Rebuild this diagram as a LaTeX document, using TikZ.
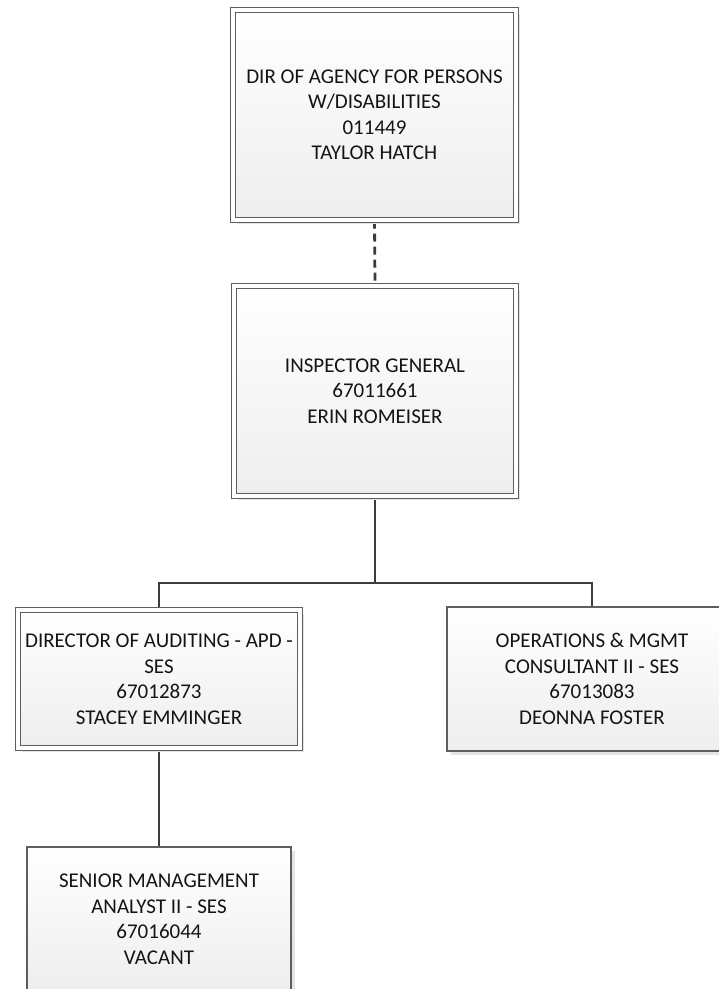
\documentclass[tikz,border=0pt]{standalone}
\usepackage{fontspec}
\setmainfont{Carlito}
\usetikzlibrary{shadows,backgrounds}
\definecolor{boxline}{HTML}{5E5E5E}
\definecolor{conline}{HTML}{3C3C3C}
\definecolor{boxbottom}{HTML}{EEEEEE}
\definecolor{shadowc}{HTML}{E4E4E4}
\definecolor{txt}{HTML}{141414}
\tikzset{
  orgbase/.style={rectangle, align=center, inner sep=0pt,
    top color=white, bottom color=boxbottom,
    text=txt, font=\fontsize{21}{25.5}\selectfont,
    drop shadow={shadow xshift=4pt, shadow yshift=-4pt, fill=shadowc, opacity=1}},
  dblbox/.style={orgbase, draw=boxline, line width=1.2pt, double=white, double distance=3.6pt},
  sglbox/.style={orgbase, draw=boxline, line width=1.4pt},
  conn/.style={draw=conline, line width=2.8pt},
  dconn/.style={conn, dash pattern=on 8pt off 5pt}
}
\begin{document}
\begin{tikzpicture}[x=1pt, y=-1pt]
\useasboundingbox (0,0) rectangle (719,989);
\node[dblbox, minimum width=283pt, minimum height=210pt] (dir) at (374.5,115)
  {DIR OF AGENCY FOR PERSONS\\W/DISABILITIES\\011449\\TAYLOR HATCH};
\node[dblbox, minimum width=282pt, minimum height=210pt] (ig) at (375,391)
  {INSPECTOR GENERAL\\67011661\\ERIN ROMEISER};
\node[dblbox, minimum width=282pt, minimum height=138pt] (aud) at (159,679)
  {DIRECTOR OF AUDITING - APD -\\SES\\67012873\\STACEY EMMINGER};
\node[sglbox, minimum width=290pt, minimum height=144pt] (ops) at (592,679)
  {OPERATIONS \& MGMT\\CONSULTANT II - SES\\67013083\\DEONNA FOSTER};
\node[sglbox, minimum width=264pt, minimum height=144pt] (sma) at (159,919)
  {SENIOR MANAGEMENT\\ANALYST II - SES\\67016044\\VACANT};
\coordinate (bus) at (375,583);
\begin{scope}[on background layer]
\draw[dconn] (dir.south) -- (ig.north);
\draw[conn] (ig.south) -- (bus);
\draw[conn] (aud.north) |- (bus) -| (ops.north);
\draw[conn] (aud.south) -- (sma.north);
\end{scope}
\end{tikzpicture}
\end{document}
